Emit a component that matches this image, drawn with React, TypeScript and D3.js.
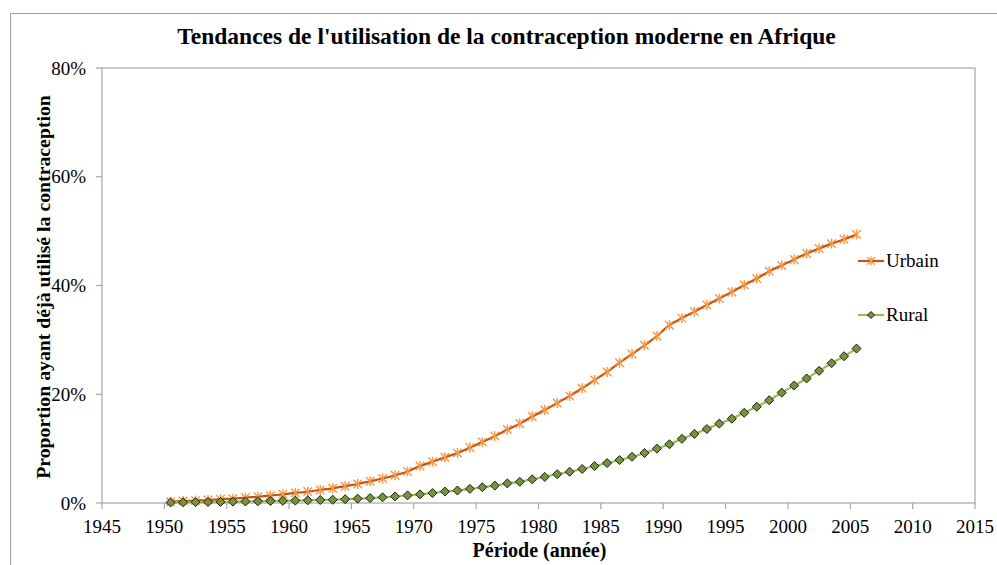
import { useMemo } from 'react';
import * as d3 from 'd3';

// mid-year points, 1950.5 .. 2005.5
const years: number[] = d3.range(1950.5, 2006, 1);

// % ever used modern contraception
const urbain: number[] = [
  0.25, 0.35, 0.45, 0.55, 0.7, 0.8, 1.0, 1.15, 1.35, 1.6,
  1.85, 2.1, 2.4, 2.7, 3.1, 3.5, 4.0, 4.5, 5.1, 5.8,
  6.8, 7.6, 8.4, 9.2, 10.2, 11.2, 12.3, 13.5, 14.6, 15.9,
  17.1, 18.4, 19.7, 21.1, 22.6, 24.1, 25.8, 27.4, 29.0, 30.7,
  32.7, 34.0, 35.2, 36.4, 37.6, 38.8, 40.1, 41.3, 42.6, 43.7,
  44.8, 45.9, 46.8, 47.7, 48.5, 49.4,
];
const rural: number[] = [
  0.1, 0.12, 0.15, 0.18, 0.2, 0.25, 0.28, 0.32, 0.36, 0.4,
  0.45, 0.5, 0.55, 0.6, 0.7, 0.8, 0.9, 1.05, 1.2, 1.4,
  1.6, 1.85, 2.1, 2.3, 2.6, 2.9, 3.2, 3.6, 3.9, 4.35,
  4.8, 5.3, 5.75, 6.25, 6.8, 7.35, 7.9, 8.5, 9.2, 10.0,
  10.8, 11.8, 12.7, 13.6, 14.6, 15.5, 16.6, 17.7, 18.9, 20.3,
  21.6, 22.9, 24.3, 25.7, 27.0, 28.4,
];

const xTicks: number[] = d3.range(1945, 2016, 5);
const yTicks: number[] = [0, 20, 40, 60, 80];

const W = 997;
const H = 565;
const margin = { left: 102, top: 68, right: 22, bottom: 62 };
const FONT = "'Liberation Serif', 'Times New Roman', serif";

const URB_LINE = '#c0560f';
const URB_MARK = '#f79646';
const RUR_LINE = '#9bbb59';
const RUR_FILL = '#77933c';

function Asterisk({ x, y, s = 5 }: { x: number; y: number; s?: number }) {
  const d = s * 0.85;
  return (
    <g stroke={URB_MARK} strokeWidth={1.4}>
      <line x1={x} y1={y - s} x2={x} y2={y + s} />
      <line x1={x - d} y1={y - d} x2={x + d} y2={y + d} />
      <line x1={x - d} y1={y + d} x2={x + d} y2={y - d} />
    </g>
  );
}

function Diamond({ x, y, s = 4.5 }: { x: number; y: number; s?: number }) {
  return (
    <path
      d={`M${x},${y - s}L${x + s},${y}L${x},${y + s}L${x - s},${y}Z`}
      fill={RUR_FILL}
      stroke="#1e1e1e"
      strokeWidth={1}
    />
  );
}

export default function App() {
  const x = useMemo(() => d3.scaleLinear().domain([1945, 2015]).range([margin.left, W - margin.right]), []);
  const y = useMemo(() => d3.scaleLinear().domain([0, 80]).range([H - margin.bottom, margin.top]), []);

  const line = d3
    .line<[number, number]>()
    .x(d => x(d[0]))
    .y(d => y(d[1]))
    .curve(d3.curveMonotoneX);

  const urbPts: [number, number][] = years.map((yr, i) => [yr, urbain[i]]);
  const rurPts: [number, number][] = years.map((yr, i) => [yr, rural[i]]);

  const x0 = x(1945);
  const x1 = x(2015);
  const y0 = y(0);
  const y1 = y(80);

  return (
    <div style={{ position: 'absolute', left: 0, top: 0 }}>
      <svg width={W} height={H} style={{ display: 'block' }} fontFamily={FONT}>
        <rect x={0} y={0} width={W} height={H} fill="#fff" />
        {/* chart frame */}
        <rect x={10.5} y={13.5} width={1000} height={600} fill="none" stroke="#a0a0a0" strokeWidth={1} />

        <text x={506.5} y={44} textAnchor="middle" fontSize={23.5} fontWeight="bold" fill="#000" fontFamily={FONT}>
          Tendances de l'utilisation de la contraception moderne en Afrique
        </text>

        {/* plot area border */}
        <rect x={x0} y={y1} width={x1 - x0} height={y0 - y1} fill="none" stroke="#a6a6a6" strokeWidth={1.2} />

        {/* y ticks */}
        {yTicks.map(t => (
          <g key={t}>
            <line x1={x0 - 6} x2={x0} y1={y(t)} y2={y(t)} stroke="#a6a6a6" strokeWidth={1.2} />
            <text x={x0 - 16} y={y(t) + 6.5} textAnchor="end" fontSize={19} fill="#000" fontFamily={FONT}>
              {t}%
            </text>
          </g>
        ))}

        {/* x ticks */}
        {xTicks.map(t => (
          <g key={t}>
            <line x1={x(t)} x2={x(t)} y1={y0} y2={y0 + 6} stroke="#a6a6a6" strokeWidth={1.2} />
            <text x={x(t)} y={y0 + 30} textAnchor="middle" fontSize={19} fill="#000" fontFamily={FONT}>
              {t}
            </text>
          </g>
        ))}

        <text x={539.5} y={557} textAnchor="middle" fontSize={20} fontWeight="bold" fill="#000" fontFamily={FONT}>
          Période (année)
        </text>
        <text
          transform={`translate(50,287) rotate(-90)`}
          textAnchor="middle"
          fontSize={19.8}
          fontWeight="bold"
          fill="#000"
          fontFamily={FONT}
        >
          Proportion ayant déjà utilisé la contraception
        </text>

        {/* series */}
        <path d={line(urbPts) ?? ''} fill="none" stroke={URB_LINE} strokeWidth={2.2} />
        {urbPts.map((p, i) => (
          <Asterisk key={i} x={x(p[0])} y={y(p[1])} />
        ))}
        <path d={line(rurPts) ?? ''} fill="none" stroke={RUR_LINE} strokeWidth={2.2} />
        {rurPts.map((p, i) => (
          <Diamond key={i} x={x(p[0])} y={y(p[1])} />
        ))}

        {/* legend */}
        <g>
          <line x1={858} x2={884} y1={261} y2={261} stroke={URB_LINE} strokeWidth={2.2} />
          <Asterisk x={871} y={261} s={4.5} />
          <text x={886} y={267} fontSize={19} fill="#000" fontFamily={FONT}>Urbain</text>
          <line x1={858} x2={884} y1={315} y2={315} stroke={RUR_LINE} strokeWidth={2.2} />
          <Diamond x={871} y={315} s={3.5} />
          <text x={886} y={321} fontSize={19} fill="#000" fontFamily={FONT}>Rural</text>
        </g>
      </svg>
    </div>
  );
}
